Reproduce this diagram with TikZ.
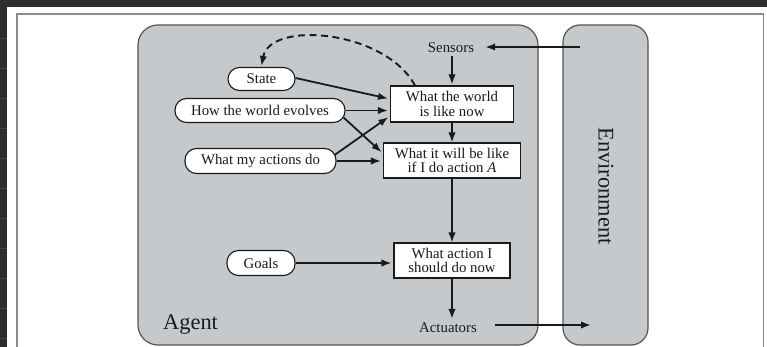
\documentclass[tikz,border=0pt]{standalone}
\usepackage{fontspec}
\setmainfont{Liberation Serif}
\usetikzlibrary{arrows.meta,calc}
\definecolor{screen}{HTML}{2E2E2E}
\definecolor{screenline}{HTML}{484848}
\definecolor{framegray}{HTML}{8A8A8A}
\definecolor{panelgray}{HTML}{C6C9CC}
\definecolor{paneledge}{HTML}{555555}
\definecolor{ink}{HTML}{1A1A1A}
\tikzset{
  panel/.style={draw=paneledge, fill=panelgray, line width=1.2pt, inner sep=0pt},
  txt/.style={font=\fontsize{14.8}{14.3}\selectfont, text=ink, inner sep=0pt},
  bigtxt/.style={font=\fontsize{22.4}{24}\selectfont, text=ink, inner sep=0pt},
  boxnode/.style={txt, draw=ink, fill=white, line width=1.1pt, align=center, minimum height=36pt},
  pill/.style={txt, draw=ink, fill=white, line width=1.1pt, rounded corners=11.5pt, minimum height=24pt},
  flow/.style={draw=ink, line width=1.8pt, -{Latex[length=10pt,width=7.5pt]}},
  feedback/.style={draw=ink, line width=1.9pt, dash pattern=on 7pt off 4.5pt, -{Latex[length=10pt,width=7.5pt]}}
}
\begin{document}
\begin{tikzpicture}[x=1pt,y=-1pt]
\useasboundingbox (0,0) rectangle (767,347);
% screen background and page
\fill[screen] (0,0) rectangle (767,347);
\foreach \yy in {38,68,...,338} \draw[screenline, line width=0.8pt] (0,\yy) -- (7,\yy);
\fill[white] (7,7) rectangle (767,347);
\draw[framegray, line width=1.2pt] (17,360) -- (17,14) -- (763.5,14) -- (763.5,360);
% containers
\node[panel, rounded corners=20pt, minimum width=400pt, minimum height=320pt] (agent) at (338,185) {};
\node[panel, rounded corners=17pt, minimum width=85pt, minimum height=320pt] (env) at (605.5,185) {};
\node[bigtxt, anchor=base west] (agentlbl) at (163,329) {Agent};
\node[bigtxt, rotate=-90] (envlbl) at (606,186) {Environment};
% labels
\node[txt] (sensors) at (451,48) {Sensors};
\node[txt] (actuators) at (448,328) {Actuators};
% boxes
\node[boxnode, minimum width=123pt] (world) at (452,104) {What the world\\is like now};
\node[boxnode, minimum width=137pt, minimum height=35pt] (predict) at (452,160.5) {What it will be like\\if I do action \textit{A}};
\node[boxnode, minimum width=116pt, minimum height=35pt] (action) at (452,260.5) {What action I\\should do now};
% pills
\node[pill, minimum width=67pt, minimum height=23pt] (state) at (261.5,79) {State};
\node[pill, minimum width=170pt] (evolves) at (260,110.5) {How the world evolves};
\node[pill, minimum width=151pt, minimum height=25pt] (myact) at (260.5,161) {What my actions do};
\node[pill, minimum width=68pt, minimum height=25pt] (goals) at (261,263) {Goals};
% free ends inside the environment
\coordinate (envin) at (580,47);
\coordinate (envout) at (591,325);
% connectors
\draw[flow, shorten >=11pt] (envin) -- (sensors.east |- envin);
\draw[flow, shorten <=3pt, shorten >=1pt] (world.north |- sensors.south) -- (world.north);
\draw[flow] (world.south) -- (predict.north);
\draw[flow] (predict.south) -- (action.north);
\draw[flow, shorten >=4pt] (action.south) -- (action.south |- actuators.north);
\draw[flow, shorten <=18pt] (actuators.east |- envout) -- (envout);
\draw[flow, shorten >=2pt] ([yshift=1pt]state.east) -- ([yshift=5pt]world.west);
\draw[flow, shorten >=2pt] (evolves.east) -- (evolves.east -| world.west);
\draw[flow, shorten >=2pt] ([xshift=-2pt,yshift=-7pt]evolves.east) -- ([yshift=7pt]predict.west);
\draw[flow, shorten >=2pt] ([xshift=-2pt,yshift=6pt]myact.east) -- ([yshift=-12pt]world.west);
\draw[flow, shorten >=2pt] (myact.east) -- (myact.east -| predict.west);
\draw[flow, shorten >=2pt] (goals.east) -- (goals.east -| action.west);
\draw[feedback] ([xshift=-37pt]world.north) .. controls (385,30) and (270,20) .. ([yshift=1pt]state.north);
\end{tikzpicture}
\end{document}
